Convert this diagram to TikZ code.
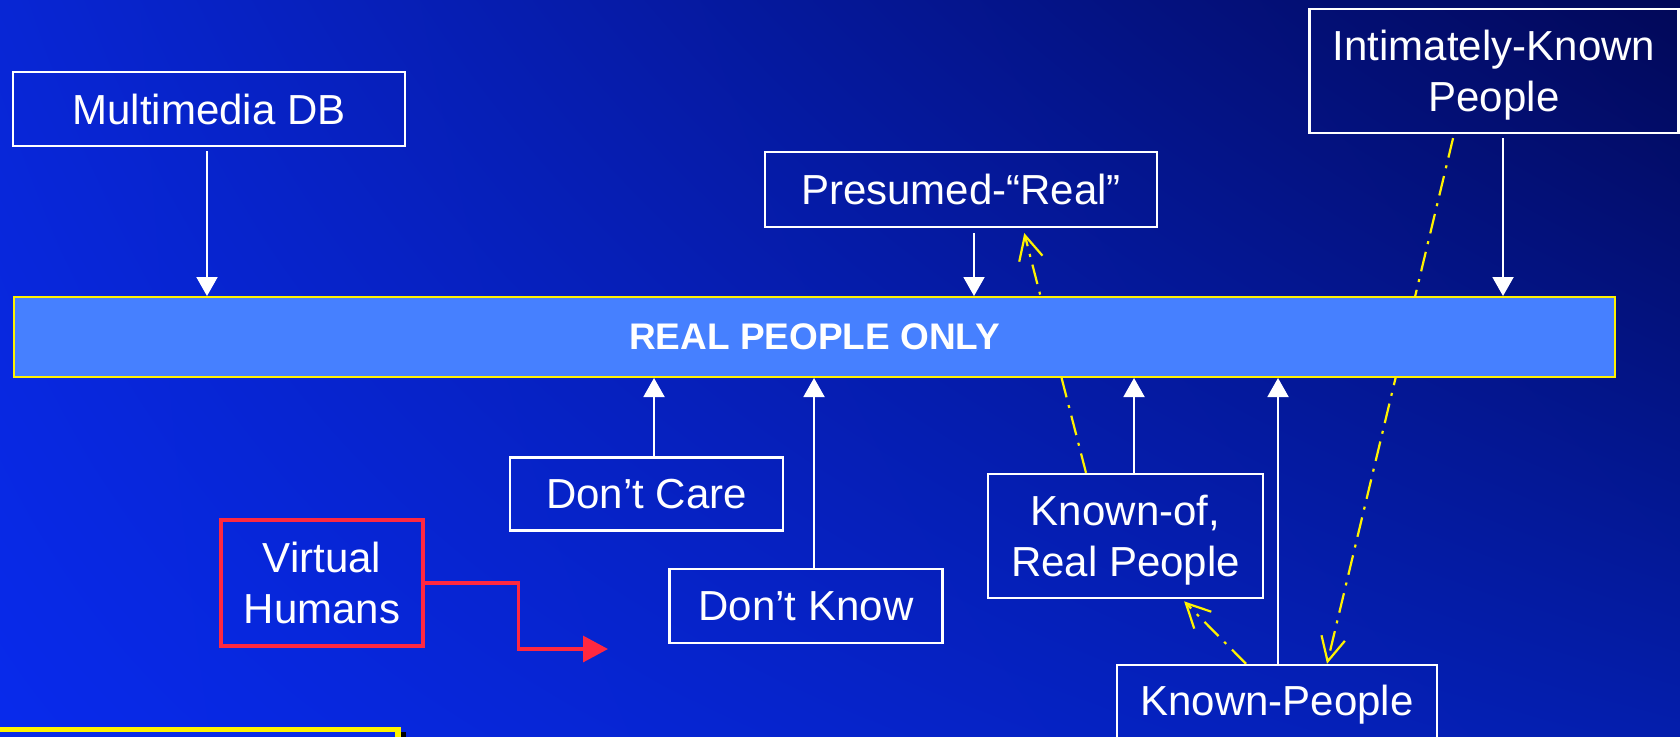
\documentclass[tikz,border=0pt]{standalone}
\usepackage{fontspec}
\setmainfont{Liberation Sans}
\usetikzlibrary{arrows.meta,shadings}
\definecolor{barblue}{RGB}{70,128,255}
\definecolor{vred}{RGB}{255,40,64}
\definecolor{bgUL}{RGB}{8,38,212}
\definecolor{bgUR}{RGB}{2,8,88}
\definecolor{bgLL}{RGB}{8,42,236}
\definecolor{bgLR}{RGB}{4,30,172}
\definecolor{noteblue}{RGB}{10,44,232}
\pgfdeclarelayer{back}
\pgfdeclarelayer{lines}
\pgfsetlayers{back,lines,main}
\def\pxu{0.5pt}
\begin{document}
\begin{tikzpicture}[x=0.5pt,y=-0.5pt,
  box/.style={draw=white, line width=1.2pt, text=white, inner sep=0pt, align=center,
              font=\fontsize{21}{25.3}\selectfont},
  feed/.style={draw=white, line width=1pt, -{Triangle[length=9.5pt,width=10.5pt]}},
  link/.style={draw=yellow, line width=1.1pt, dash pattern=on 10pt off 4pt on 1.5pt off 4pt,
               -{Straight Barb[length=12pt,width=12pt,line width=1.1pt]}},
  redlink/.style={draw=vred, line width=1.6pt, -{Triangle[length=12.5pt,width=13pt]}},
]
\useasboundingbox (0,0) rectangle (1680,736);
\begin{pgfonlayer}{back}
  \shade[upper left=bgUL, upper right=bgUR, lower left=bgLL, lower right=bgLR]
    (0,0) rectangle (1680,736);
\end{pgfonlayer}

% boxes
\node[box, minimum width=392*\pxu, minimum height=74*\pxu] (mmdb) at (209,109) {Multimedia DB};
\node[box, minimum width=369*\pxu, minimum height=124*\pxu, text depth=-4.3pt] (intim) at (1494,71) {Intimately-Known\\People};
\node[box, minimum width=392*\pxu, minimum height=75*\pxu] (pres) at (961,189.5) {Presumed-“Real”};
\node[draw=yellow, fill=barblue, line width=1pt, inner sep=0pt,
      minimum width=1601*\pxu, minimum height=80*\pxu, text=white,
      font=\bfseries\fontsize{18.5}{22}\selectfont] (bar) at (814.5,337) {REAL PEOPLE ONLY};
\node[box, minimum width=273*\pxu, minimum height=73*\pxu] (care) at (646.5,494) {Don’t Care};
\node[box, minimum width=273*\pxu, minimum height=74*\pxu] (know) at (806,606) {Don’t Know};
\node[box, minimum width=275*\pxu, minimum height=124*\pxu, text depth=0pt] (knownof) at (1125.5,536) {Known-of,\\Real People};
\node[box, minimum width=320*\pxu, minimum height=80*\pxu] (known) at (1277,705) {Known-People};
\node[box, draw=vred, line width=1.6pt, minimum width=202*\pxu, minimum height=126*\pxu] (virt) at (322,583) {Virtual\\Humans};

% partly visible note box at the lower left, with its shadow
\fill[black] (-20,732) rectangle (406,800);
\node[draw=yellow, fill=noteblue, line width=2.75pt, inner sep=0pt,
      minimum width=418*\pxu, minimum height=70.5*\pxu] (note) at (189,764.75) {};

% x positions of the connectors
\coordinate (xmm) at (207,0);
\coordinate (xpr) at (974,0);
\coordinate (xim) at (1503,0);
\coordinate (xdc) at (654,0);
\coordinate (xdk) at (814,0);
\coordinate (xko) at (1134,0);
\coordinate (xkp) at (1278,0);
\coordinate (yim) at (1454,0);
\coordinate (ykp) at (1327,0);
\coordinate (ykoA) at (1086,0);
\coordinate (yprA) at (1023,0);
\coordinate (ykpB) at (1246,0);
\coordinate (ykoB) at (1182,0);

% white feeds into the bar
\draw[feed, shorten <=2pt] (mmdb.south -| xmm) -- (bar.north -| xmm);
\draw[feed, shorten <=2.5pt] (pres.south -| xpr) -- (bar.north -| xpr);
\draw[feed, shorten <=2pt] (intim.south -| xim) -- (bar.north -| xim);
\draw[feed] (care.north -| xdc) -- (bar.south -| xdc);
\draw[feed] (know.north -| xdk) -- (bar.south -| xdk);
\draw[feed] (knownof.north -| xko) -- (bar.south -| xko);
\draw[feed] (known.north -| xkp) -- (bar.south -| xkp);

% yellow dash-dot links, passing behind the bar
\begin{pgfonlayer}{lines}
  \draw[link, shorten <=2pt] (intim.south -| yim) -- (known.north -| ykp);
  \draw[link, shorten >=2.5pt] (knownof.north -| ykoA) -- (pres.south -| yprA);
  \draw[link, shorten >=1.5pt] (known.north -| ykpB) -- (knownof.south -| ykoB);
\end{pgfonlayer}

% red elbow connector
\coordinate (vend) at (608,649);
\draw[redlink] (virt.east) -- ++(94,0) |- (vend);
\end{tikzpicture}
\end{document}
